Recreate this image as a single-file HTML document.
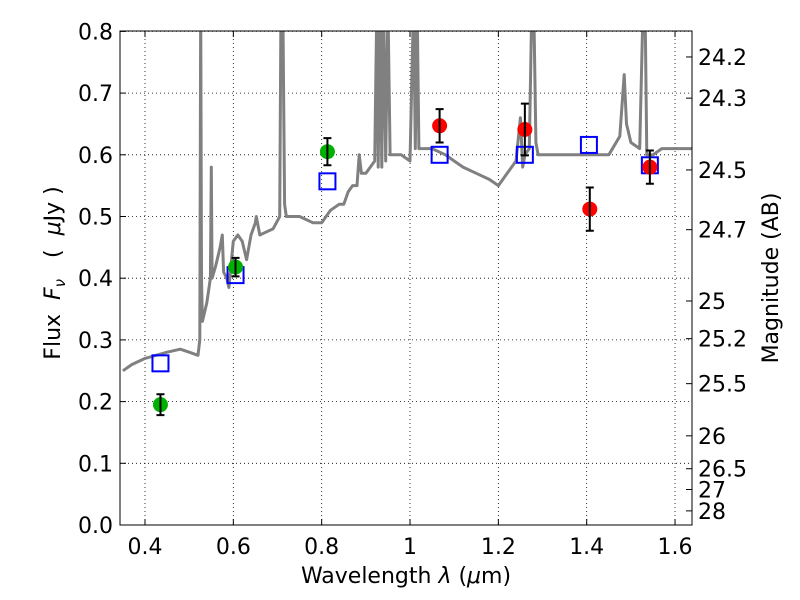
<!DOCTYPE html>
<html><head><meta charset="utf-8"><style>
body{margin:0;background:#fff;}
svg{display:block;font-family:"DejaVu Sans","Liberation Sans",sans-serif;}
</style></head><body>
<svg id="chart" width="800" height="600" xmlns="http://www.w3.org/2000/svg">
<defs><clipPath id="clip"><rect x="120" y="31" width="572" height="494"/></clipPath></defs>
<rect width="800" height="600" fill="#fff"/>
<g id="grid"></g>
<g id="spec" clip-path="url(#clip)"></g>
<g id="marks"></g>
<rect x="120" y="31" width="572" height="494" fill="none" stroke="#000" stroke-width="1"/>
<g id="axes"></g>
<text x="406" y="583" font-size="22" text-anchor="middle">Wavelength  <tspan font-style="italic">λ</tspan> (<tspan font-style="italic">μ</tspan>m)</text>
<text transform="translate(60,273) rotate(-90)" font-size="22" text-anchor="middle" xml:space="preserve">Flux  <tspan font-style="italic">F</tspan><tspan font-style="italic" font-size="15" dy="5">ν</tspan><tspan dy="-5">   (  </tspan><tspan font-style="italic">μ</tspan>Jy )</text>
<text transform="translate(778,278) rotate(-90)" font-size="22" text-anchor="middle">Magnitude (AB)</text>
</svg>
<script>
const specWave=[0.35,0.37,0.40,0.45,0.48,0.50,0.52,0.524,0.526,0.528,0.53,0.54,0.548,0.55,0.552,0.56,0.57,0.575,0.578,0.585,0.59,0.60,0.61,0.62,0.63,0.64,0.65,0.652,0.66,0.69,0.705,0.708,0.712,0.716,0.72,0.75,0.78,0.80,0.82,0.84,0.85,0.86,0.87,0.88,0.885,0.89,0.90,0.91,0.92,0.925,0.928,0.932,0.936,0.94,0.945,0.95,0.955,0.96,0.98,1.0,1.008,1.012,1.016,1.02,1.05,1.08,1.10,1.12,1.15,1.18,1.20,1.22,1.24,1.25,1.255,1.26,1.27,1.276,1.28,1.285,1.29,1.32,1.35,1.40,1.45,1.475,1.485,1.49,1.50,1.52,1.528,1.532,1.536,1.55,1.57,1.60,1.62,1.64];
const specFlux=[0.25,0.26,0.27,0.28,0.285,0.28,0.275,0.30,0.85,0.40,0.33,0.36,0.40,0.58,0.40,0.42,0.45,0.47,0.41,0.40,0.385,0.46,0.47,0.46,0.43,0.47,0.49,0.50,0.47,0.48,0.50,0.85,0.85,0.52,0.50,0.50,0.49,0.49,0.51,0.52,0.52,0.54,0.55,0.55,0.60,0.57,0.57,0.58,0.59,0.85,0.58,0.85,0.58,0.85,0.59,0.85,0.60,0.60,0.60,0.59,0.85,0.61,0.85,0.61,0.61,0.60,0.59,0.58,0.57,0.56,0.55,0.57,0.59,0.66,0.58,0.60,0.61,0.85,0.85,0.62,0.60,0.60,0.60,0.60,0.60,0.63,0.73,0.65,0.62,0.61,0.85,0.85,0.60,0.60,0.61,0.61,0.61,0.61];
const photWave=[0.435,0.605,0.813,1.067,1.26,1.407,1.543];
const photFlux=[0.195,0.418,0.605,0.647,0.641,0.512,0.580];
const photErr=[0.017,0.015,0.022,0.027,0.042,0.035,0.027];
const photColor=["#00b000","#00b000","#00b000","#ff0000","#ff0000","#ff0000","#ff0000"];
const modelWave=[0.435,0.605,0.813,1.067,1.26,1.405,1.543];
const modelFlux=[0.262,0.405,0.557,0.600,0.600,0.616,0.583];
const xTicks=[0.4,0.6,0.8,1.0,1.2,1.4,1.6];
const xTickLabels=["0.4","0.6","0.8","1","1.2","1.4","1.6"];
const yTicks=[0,0.1,0.2,0.3,0.4,0.5,0.6,0.7,0.8];
const yTickLabels=["0.0","0.1","0.2","0.3","0.4","0.5","0.6","0.7","0.8"];
const magTicks=[24.2,24.3,24.5,24.7,25,25.2,25.5,26,26.5,27,28];

const NS="http://www.w3.org/2000/svg";
const X=v=>145+(v-0.4)*441.7;
const Y=v=>525-v*617;
const M=m=>Y(Math.pow(10,(23.9-m)/2.5));
function mk(tag,attrs,parent){const e=document.createElementNS(NS,tag);for(const k in attrs)e.setAttribute(k,attrs[k]);parent.appendChild(e);return e;}
const grid=document.getElementById('grid'),axes=document.getElementById('axes'),spec=document.getElementById('spec'),marks=document.getElementById('marks');
xTicks.forEach((t,i)=>{
 const l=mk('line',{x1:X(t),x2:X(t),y1:31,y2:525,stroke:'#000','stroke-width':0.8,'stroke-dasharray':'1,3'},grid);
 
 
 mk('line',{x1:X(t),x2:X(t),y1:525,y2:519,stroke:'#000'},axes);
 mk('line',{x1:X(t),x2:X(t),y1:31,y2:37,stroke:'#000'},axes);
 const tx=mk('text',{x:X(t),y:554,'font-size':22,'text-anchor':'middle'},axes);
 tx.textContent=xTickLabels[i];
 
 
});
yTicks.forEach((t,i)=>{
 const l=mk('line',{x1:120,x2:692,y1:Y(t),y2:Y(t),stroke:'#000','stroke-width':0.8,'stroke-dasharray':'1,3'},grid);
 
 
 mk('line',{x1:120,x2:126,y1:Y(t),y2:Y(t),stroke:'#000'},axes);
 const tx=mk('text',{x:113,y:Y(t)+8,'font-size':22,'text-anchor':'end'},axes);
 tx.textContent=yTickLabels[i];
 
 
});
magTicks.forEach(m=>{
 mk('line',{x1:686,x2:692,y1:M(m),y2:M(m),stroke:'#000'},axes);
 const tx=mk('text',{x:698,y:M(m)+8,'font-size':22},axes);
 tx.textContent=String(m);
 
 
});
const pts=specWave.map((w,i)=>X(w).toFixed(1)+','+Y(specFlux[i]).toFixed(1)).join(' ');
const pl=mk('polyline',{points:pts,fill:'none',stroke:'#808080','stroke-width':3,'stroke-linejoin':'round'},spec);


modelWave.forEach((w,i)=>{
 const r=mk('rect',{x:X(w)-8,y:Y(modelFlux[i])-8,width:16,height:16,fill:'none',stroke:'#0000ff','stroke-width':2},marks);
 
 
});
photWave.forEach((w,i)=>{
 const c=mk('circle',{cx:X(w),cy:Y(photFlux[i]),r:7.5,fill:photColor[i]},marks);
 
 
 const y1=Y(photFlux[i]+photErr[i]),y2=Y(photFlux[i]-photErr[i]),x=X(w);
 const e=mk('path',{d:`M${x},${y1}V${y2}M${x-4},${y1}H${x+4}M${x-4},${y2}H${x+4}`,stroke:'#000','stroke-width':2,fill:'none'},marks);
 
 
});
</script>
</body></html>
